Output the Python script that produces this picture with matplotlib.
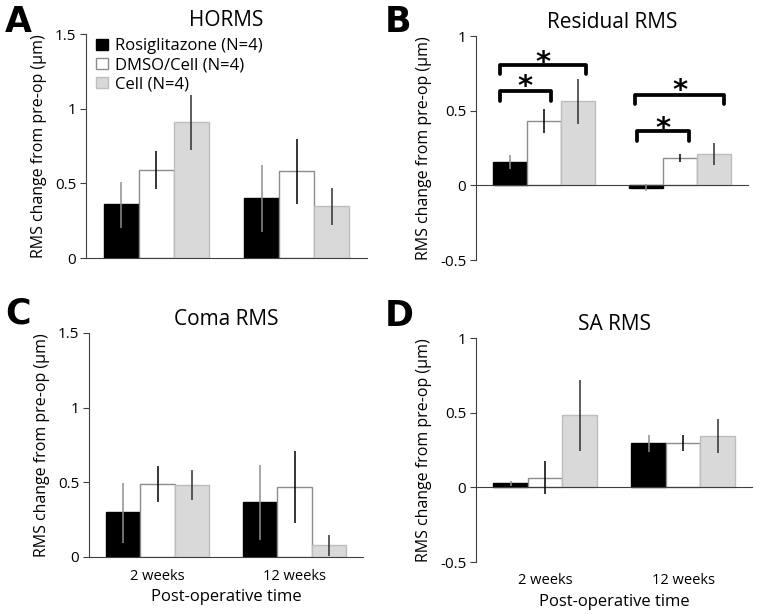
import numpy as np
import matplotlib
matplotlib.use("Agg")
import matplotlib.pyplot as plt

plt.rcParams['font.family'] = ['Open Sans', 'DejaVu Sans']

groups = ['2 weeks', '12 weeks']
series = ['Rosiglitazone (N=4)', 'DMSO/Cell (N=4)', 'Cell (N=4)']

# values[series][group], error bars as (low, high) absolute limits
horms_mean = [[0.36, 0.40], [0.59, 0.58], [0.91, 0.35]]
horms_lo = [[0.20, 0.175], [0.46, 0.36], [0.72, 0.22]]
horms_hi = [[0.51, 0.62], [0.715, 0.795], [1.09, 0.47]]

resid_mean = [[0.156, -0.02], [0.43, 0.183], [0.566, 0.209]]
resid_lo = [[0.11, -0.04], [0.35, 0.156], [0.41, 0.134]]
resid_hi = [[0.203, 0.012], [0.512, 0.207], [0.715, 0.283]]

coma_mean = [[0.298, 0.368], [0.486, 0.471], [0.481, 0.08]]
coma_lo = [[0.095, 0.114], [0.369, 0.228], [0.383, 0.01]]
coma_hi = [[0.497, 0.616], [0.609, 0.712], [0.58, 0.147]]

sa_mean = [[0.027, 0.294], [0.063, 0.299], [0.483, 0.342]]
sa_lo = [[0.009, 0.234], [-0.045, 0.243], [0.243, 0.227]]
sa_hi = [[0.045, 0.353], [0.173, 0.353], [0.721, 0.456]]

# significance brackets for panel B: (x_left, x_right, y_top, y_tip, star_y)
brackets_b = [
    (0.676, 1.051, 0.629, 0.562, 0.707),
    (0.676, 1.309, 0.807, 0.747, 0.873),
    (1.684, 2.066, 0.362, 0.300, 0.427),
    (1.669, 2.324, 0.607, 0.547, 0.68),
]

fills = ['black', 'white', '#d9d9d9']
edges = ['black', '#8c8c8c', '#bdbdbd']
err_cols = ['#8f8f8f', 'black', '#303030']
ylab = 'RMS change from pre-op (µm)'

W, H = 760, 614
fig = plt.figure(figsize=(W / 100, H / 100), dpi=100)


def px_axes(left, right, top, bottom):
    return fig.add_axes([left / W, 1 - bottom / H, (right - left) / W, (bottom - top) / H])


def draw_panel(ax, mean, lo, hi, ylim, yticks, yticklabels, title):
    x = np.arange(1, len(groups) + 1)
    w = 0.25
    for i in range(3):
        m = np.array(mean[i])
        xs = x + (i - 1) * w
        ax.bar(xs, m, width=w, color=fills[i], edgecolor=edges[i], linewidth=1.0, zorder=2)
        yerr = np.array([m - np.array(lo[i]), np.array(hi[i]) - m])
        ax.errorbar(xs, m, yerr=yerr, fmt='none', ecolor=err_cols[i], elinewidth=1.1,
                    capsize=0, zorder=3)
    ax.set_xlim(0.5, 2.5)
    ax.set_ylim(*ylim)
    ax.set_yticks(yticks)
    ax.set_yticklabels(yticklabels)
    ax.spines['top'].set_visible(False)
    ax.spines['right'].set_visible(False)
    ax.spines['bottom'].set_position(('data', 0))
    ax.spines['left'].set_color('#404040')
    ax.spines['bottom'].set_color('#404040')
    ax.tick_params(axis='y', length=4, width=0.8, color='#404040', labelsize=11, pad=3)
    ax.set_xticks([])
    ax.set_ylabel(ylab, fontsize=11.5, labelpad=6)
    ax.set_title(title, fontsize=15, pad=6)


def under_text(ax, xval, dy_px, s, size):
    # text placed dy_px pixels below the bottom of the plot area
    y_ax = -dy_px / (ax.get_position().height * H)
    ax.text(xval, y_ax, s, transform=ax.get_xaxis_transform(), fontsize=size,
            ha='center', va='center')


axA = px_axes(86, 367, 34, 258)
draw_panel(axA, horms_mean, horms_lo, horms_hi, (0, 1.5), [0, 0.5, 1, 1.5],
           ['0', '0.5', '1', '1.5'], 'HORMS')
handles = [plt.Rectangle((0, 0), 1, 1, facecolor=fills[i], edgecolor=edges[i]) for i in range(3)]
axA.legend(handles, series, loc='upper left', bbox_to_anchor=(0.0, 1.025), frameon=False,
           fontsize=12, handlelength=0.7, handleheight=0.7, handletextpad=0.45,
           labelspacing=0.18, borderaxespad=0.2)

axB = px_axes(476, 748, 36, 260)
draw_panel(axB, resid_mean, resid_lo, resid_hi, (-0.5, 1), [-0.5, 0, 0.5, 1],
           ['-0.5', '0', '0.5', '1'], 'Residual RMS')
for xl, xr, yt, ytip, ys in brackets_b:
    axB.plot([xl, xl, xr, xr], [ytip, yt, yt, ytip], color='black', lw=2.7,
             solid_joinstyle='round', solid_capstyle='round', zorder=4)
    axB.text((xl + xr) / 2, ys - 0.105, '*', fontsize=21, fontweight='bold',
             family='DejaVu Sans', ha='center', va='baseline', zorder=4)

axC = px_axes(89, 363, 333, 557)
draw_panel(axC, coma_mean, coma_lo, coma_hi, (0, 1.5), [0, 0.5, 1, 1.5],
           ['0', '0.5', '1', '1.5'], 'Coma RMS')

axD = px_axes(476, 752, 338, 562)
draw_panel(axD, sa_mean, sa_lo, sa_hi, (-0.5, 1), [-0.5, 0, 0.5, 1],
           ['-0.5', '0', '0.5', '1'], 'SA RMS')

for ax in (axC, axD):
    for xi, g in zip([1, 2], groups):
        under_text(ax, xi, 19, g, 10.5)
    under_text(ax, 1.5, 40, 'Post-operative time', 12)

# panel letters
for letter, xp, yp in [('A', 5, 32), ('B', 385, 32), ('C', 5, 324), ('D', 385, 326)]:
    fig.text(xp / W, 1 - yp / H, letter, fontsize=25, fontweight='bold',
             family='DejaVu Sans', ha='left', va='baseline')

fig.savefig('out.png', dpi=100)
